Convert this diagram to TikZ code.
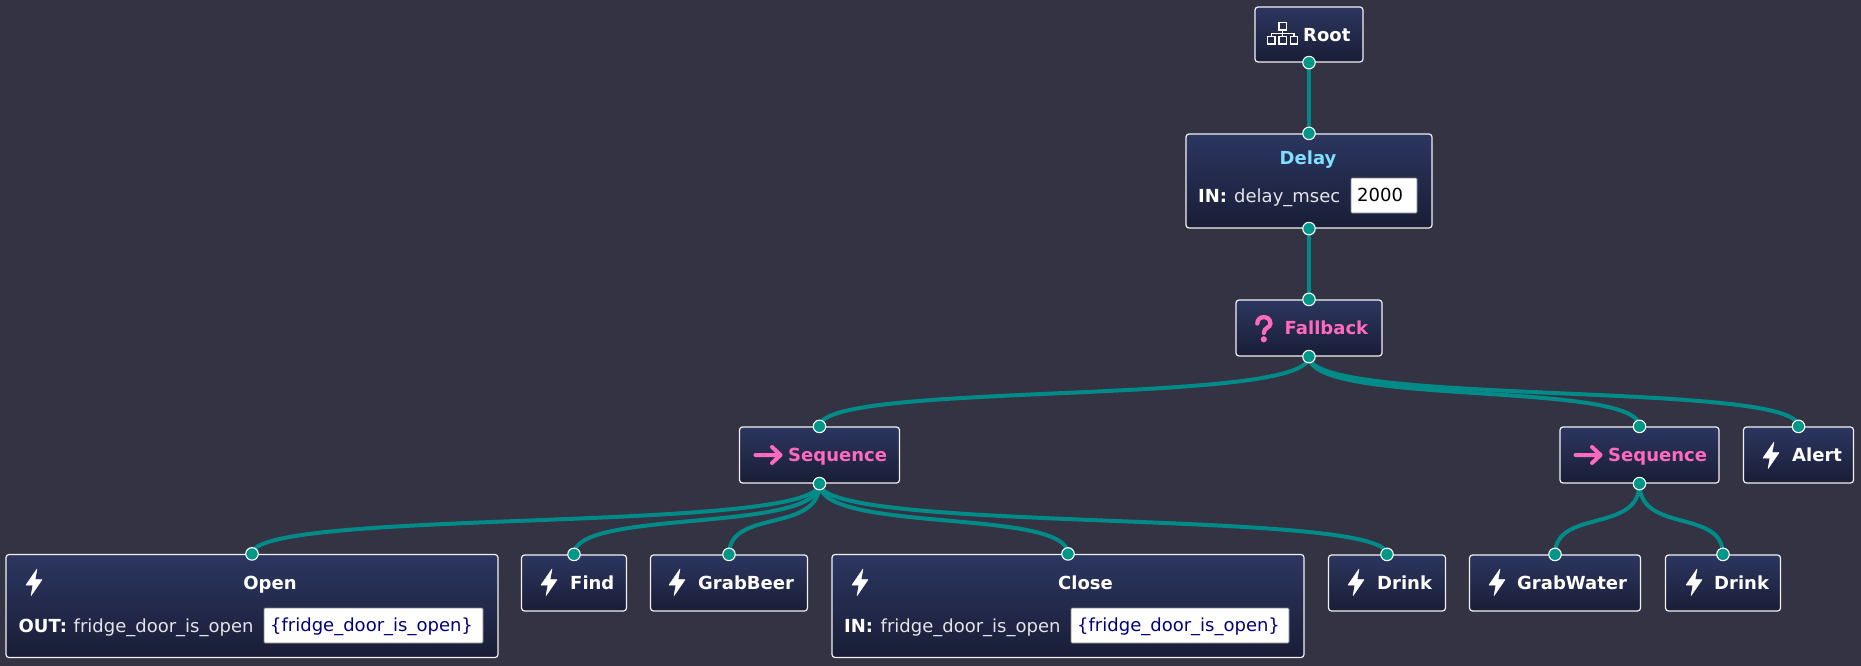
\documentclass[tikz,border=0pt]{standalone}
\usepackage{fontspec}
\setmainfont{DejaVu Sans}
\usetikzlibrary{backgrounds}
\definecolor{canvasgray}{HTML}{343344}
\definecolor{boxtop}{HTML}{2C3660}
\definecolor{boxbottom}{HTML}{191D36}
\definecolor{linkteal}{HTML}{008B88}
\definecolor{portteal}{HTML}{009688}
\definecolor{controlpink}{HTML}{FF69BE}
\definecolor{decoblue}{HTML}{7FDFFF}
\definecolor{portgray}{HTML}{E4E4EA}
\definecolor{blackboard}{HTML}{000080}

\begin{document}
\begin{tikzpicture}
[x=1pt,y=-1pt,
  treebox/.style={rectangle,rounded corners=3pt,draw=white!90!gray,line width=1.2pt,
    top color=boxtop,bottom color=boxbottom,inner sep=0pt,minimum height=56pt},%
  portbox/.style={treebox,minimum height=103pt},
  portdot/.style={shape=circle,inner sep=0pt,minimum size=12.5pt,draw=white,line width=1.1pt,fill=portteal},
  treelink/.style={-,line width=4pt,color=linkteal,out=-90,in=90,out distance=50pt,in distance=46pt},
  nodetitle/.style={anchor=base west,inner sep=0pt,text=white,font=\fontsize{18}{20}\selectfont\bfseries},
  portname/.style={anchor=base west,inner sep=0pt,text=portgray,font=\fontsize{18}{20}\selectfont},
  valuebox/.style={rectangle,rounded corners=1pt,draw=gray,line width=0.8pt,fill=white,inner sep=0pt},
  valuetext/.style={anchor=base west,inner sep=0pt,font=\fontsize{18}{20}\selectfont},
  bolticon/.pic={\filldraw[white,line width=0.5pt,line join=round]
    (11,0) -- (0,16) -- (7,16) -- (5,26.7) -- (16,10.7) -- (9,10.7) -- cycle;},
  arrowicon/.pic={\draw[controlpink,line width=4pt,line cap=round,line join=round]
    (0,0) -- (25,0) (16.5,-8) -- (25,0) -- (16.5,8);},
  fallbackicon/.pic={\draw[controlpink,line width=4.3pt,line cap=round]
    (2.3,8.5) .. controls (2.3,0) and (15.4,0) .. (15.4,8.5) .. controls (15.4,13) and (8.8,12.5) .. (8.8,18);
    \fill[controlpink] (8.8,24.3) circle (3.1pt);},
  treeicon/.pic={\draw[white,line width=1.3pt]
    (12,0.7) rectangle (19.3,8) (0.7,14.7) rectangle (8,22) (12,14.7) rectangle (19.3,22) (23.3,14.7) rectangle (30.7,22)
    (15.6,8) -- (15.6,14.7) (4.3,14.7) -- (4.3,11.3) -- (27,11.3) -- (27,14.7);}]
\path[use as bounding box] (0,0) rectangle (1861,666);
% tree nodes
\node (root) at (1309,34.5) [treebox,minimum width=108pt,minimum height=55pt] {};
\node (delay) at (1309,181) [portbox,minimum width=246pt,minimum height=94pt] {};
\node (fallback) at (1309,328) [treebox,minimum width=146pt] {};
\node (seqleft) at (819.5,455) [treebox,minimum width=160pt] {};
\node (seqright) at (1639.5,455) [treebox,minimum width=159pt] {};
\node (alert) at (1798.5,455) [treebox,minimum width=110pt] {};
\node (open) at (252,606) [portbox,minimum width=492pt] {};
\node (find) at (574,583) [treebox,minimum width=105pt] {};
\node (grabbeer) at (729,583) [treebox,minimum width=157pt] {};
\node (close) at (1068,606) [portbox,minimum width=472pt] {};
\node (drinkleft) at (1387,583) [treebox,minimum width=117pt] {};
\node (grabwater) at (1555,583) [treebox,minimum width=171pt] {};
\node (drinkright) at (1723,583) [treebox,minimum width=115pt] {};
% titles
\node (roottext) at (1303,42) [nodetitle] {Root};
\node (delaytext) at (1308,164.5) [nodetitle,anchor=base,text=decoblue] {Delay};
\node (fallbacktext) at (1284.5,334) [nodetitle,text=controlpink] {Fallback};
\node (seqlefttext) at (788,461.5) [nodetitle,text=controlpink] {Sequence};
\node (seqrighttext) at (1608,461.5) [nodetitle,text=controlpink] {Sequence};
\node (alerttext) at (1792,461) [nodetitle] {Alert};
\node (opentext) at (270,589) [nodetitle,anchor=base] {Open};
\node (findtext) at (570,589) [nodetitle] {Find};
\node (grabbeertext) at (698,589) [nodetitle] {GrabBeer};
\node (closetext) at (1085.5,589) [nodetitle,anchor=base] {Close};
\node (drinklefttext) at (1377,589) [nodetitle] {Drink};
\node (grabwatertext) at (1517,589) [nodetitle] {GrabWater};
\node (drinkrighttext) at (1714,589) [nodetitle] {Drink};
% icons
\pic at (1267,22) {treeicon};
\pic at (1255,315) {fallbackicon};
\pic at (755.5,455) {arrowicon};
\pic at (1575.5,455) {arrowicon};
\pic at (1763,442) {bolticon};
\pic at (26,569) {bolticon};
\pic at (541,569) {bolticon};
\pic at (669,569) {bolticon};
\pic at (852,569) {bolticon};
\pic at (1348,569) {bolticon};
\pic at (1489,569) {bolticon};
\pic at (1686,569) {bolticon};
% ports and values
\node (delaykey) at (1198,202) [nodetitle] {IN:};
\node (delayport) at (1234,202) [portname] {delay\_msec};
\node (delayfield) at (1384,195.5) [valuebox,minimum width=66pt,minimum height=35pt] {};
\node (delayvalue) at (1357,201) [valuetext] {2000};
\node (openkey) at (18.5,632) [nodetitle] {OUT:};
\node (openport) at (73.5,632) [portname] {fridge\_door\_is\_open};
\node (openfield) at (373.5,625.5) [valuebox,minimum width=219pt,minimum height=35pt] {};
\node (openvalue) at (270,631) [valuetext,text=blackboard] {\{fridge\_door\_is\_open\}};
\node (closekey) at (844,632) [nodetitle] {IN:};
\node (closeport) at (880.5,632) [portname] {fridge\_door\_is\_open};
\node (closefield) at (1180,625.5) [valuebox,minimum width=218pt,minimum height=35pt] {};
\node (closevalue) at (1077,631) [valuetext,text=blackboard] {\{fridge\_door\_is\_open\}};
% connection dots
\node (rootout) at (root.south) [portdot] {};
\node (delayin) at (delay.north) [portdot] {};
\node (delayout) at (delay.south) [portdot] {};
\node (fallbackin) at (fallback.north) [portdot] {};
\node (fallbackout) at (fallback.south) [portdot] {};
\node (seqleftin) at (seqleft.north) [portdot] {};
\node (seqleftout) at (seqleft.south) [portdot] {};
\node (seqrightin) at (seqright.north) [portdot] {};
\node (seqrightout) at (seqright.south) [portdot] {};
\node (alertin) at (alert.north) [portdot] {};
\node (openin) at (open.north) [portdot] {};
\node (findin) at (find.north) [portdot] {};
\node (grabbeerin) at (grabbeer.north) [portdot] {};
\node (closein) at (close.north) [portdot] {};
\node (drinkleftin) at (drinkleft.north) [portdot] {};
\node (grabwaterin) at (grabwater.north) [portdot] {};
\node (drinkrightin) at (drinkright.north) [portdot] {};
% edges
\begin{pgfonlayer}{background}
\fill[canvasgray] (0,0) rectangle (1861,666);
\path
(rootout.center) edge[treelink] (delayin.center)
(delayout.center) edge[treelink] (fallbackin.center)
(fallbackout.center) edge[treelink] (seqleftin.center)
(fallbackout.center) edge[treelink] (seqrightin.center)
(fallbackout.center) edge[treelink] (alertin.center)
(seqleftout.center) edge[treelink] (openin.center)
(seqleftout.center) edge[treelink] (findin.center)
(seqleftout.center) edge[treelink] (grabbeerin.center)
(seqleftout.center) edge[treelink] (closein.center)
(seqleftout.center) edge[treelink] (drinkleftin.center)
(seqrightout.center) edge[treelink] (grabwaterin.center)
(seqrightout.center) edge[treelink] (drinkrightin.center);
\end{pgfonlayer}
\end{tikzpicture}
\end{document}
